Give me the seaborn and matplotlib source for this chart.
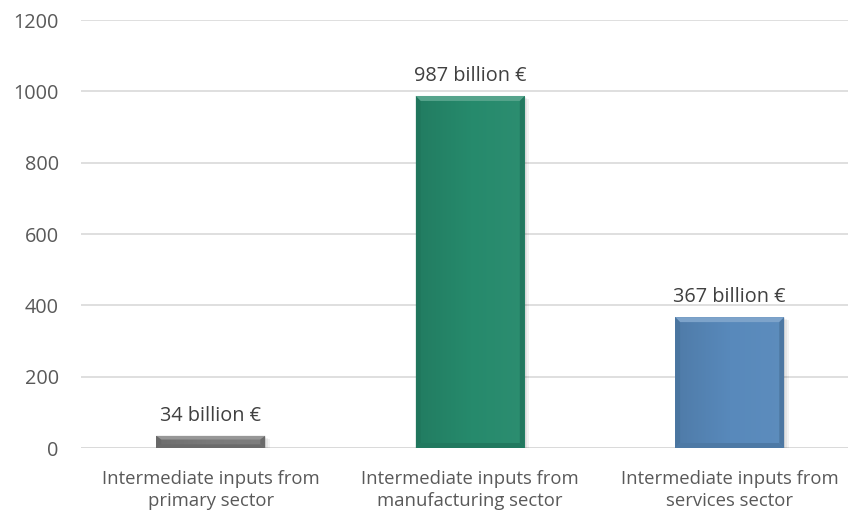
import matplotlib
matplotlib.use("Agg")
import matplotlib.pyplot as plt
import seaborn as sns
import pandas as pd
import numpy as np
from matplotlib.patches import Polygon, Rectangle
import matplotlib.colors as mc

categories = ["Intermediate inputs from\nprimary sector",
              "Intermediate inputs from\nmanufacturing sector",
              "Intermediate inputs from\nservices sector"]
values = [34, 987, 367]
labels = ["34 billion €", "987 billion €", "367 billion €"]
colors = ["#7a7a7a", "#268a6c", "#5889bb"]
yticks = [0, 200, 400, 600, 800, 1000, 1200]

sns.set_theme(style="white")
plt.rcParams['font.family'] = ['Open Sans', 'DejaVu Sans']

df = pd.DataFrame({"cat": categories, "val": values})

fig = plt.figure(figsize=(8.48, 5.14), dpi=100)
ax = fig.add_axes([81/848, 1 - 448/514, 1 - 81/848, (448 - 20)/514])

sns.barplot(data=df, x="cat", y="val", hue="cat", palette=colors, width=0.42,
            legend=False, ax=ax, saturation=1, zorder=3, linewidth=0)

ax.set_xlim(-0.5, 2.456)
ax.set_ylim(0, 1200)
ax.set_yticks(yticks)
ax.set_yticklabels([str(t) for t in yticks])
ax.yaxis.grid(True, color="#d9d9d9", linewidth=1.2, zorder=0)
ax.set_axisbelow(True)
for s in ax.spines.values():
    s.set_visible(False)
ax.axhline(0, color="#d9d9d9", linewidth=1.2, zorder=1)
ax.set_xlabel("")
ax.set_ylabel("")
ax.tick_params(axis="both", length=0, colors="#595959")
ax.tick_params(axis="y", pad=16, labelsize=14.3)
ax.tick_params(axis="x", pad=16, labelsize=13.3)
for t in ax.get_xticklabels():
    t.set_color("#595959")
    t.set_linespacing(1.3)


def shade(c, f):
    r, g, b = mc.to_rgb(c)
    if f > 0:
        return (r + (1 - r) * f, g + (1 - g) * f, b + (1 - b) * f)
    return (r * (1 + f), g * (1 + f), b * (1 + f))

for p, c, lab in zip(ax.patches, colors, labels):
    x0, y0 = p.get_x(), p.get_y()
    w, h = p.get_width(), p.get_height()
    # soft shadow
    for k in range(3):
        ax.add_patch(Rectangle((x0 + w * 0.01 * (k + 1), y0 - 3 * (k + 1)), w + w * 0.005 * k, h,
                               transform=ax.transData, facecolor="#000000", alpha=0.05,
                               zorder=2, linewidth=0))
    # subtle horizontal gradient fill clipped to the bar
    grad = np.linspace(0, 1, 64).reshape(1, -1)
    cmap = mc.LinearSegmentedColormap.from_list("g", [shade(c, -0.1), c, shade(c, 0.03)])
    im = ax.imshow(grad, extent=(x0, x0 + w, y0, y0 + h), aspect="auto", cmap=cmap,
                   zorder=3.5, interpolation="bicubic")
    im.set_clip_path(p)
    bw = w * 0.045
    bh = min(14, h * 0.3)
    ax.add_patch(Polygon([(x0, y0 + h), (x0 + w, y0 + h), (x0 + w - bw, y0 + h - bh), (x0 + bw, y0 + h - bh)],
                         closed=True, facecolor=shade(c, 0.22), zorder=4, linewidth=0))
    ax.add_patch(Polygon([(x0, y0), (x0, y0 + h), (x0 + bw, y0 + h - bh), (x0 + bw, y0 + bh)],
                         closed=True, facecolor=shade(c, -0.2), alpha=0.45, zorder=4, linewidth=0))
    ax.add_patch(Polygon([(x0 + w, y0), (x0 + w, y0 + h), (x0 + w - bw, y0 + h - bh), (x0 + w - bw, y0 + bh)],
                         closed=True, facecolor=shade(c, -0.25), alpha=0.55, zorder=4, linewidth=0))
    ax.add_patch(Polygon([(x0, y0), (x0 + w, y0), (x0 + w - bw, y0 + bh), (x0 + bw, y0 + bh)],
                         closed=True, facecolor=shade(c, -0.12), zorder=4, linewidth=0))
    ax.annotate(lab, (x0 + w / 2, y0 + h), xytext=(0, 7), textcoords="offset points",
                ha="center", va="bottom", fontsize=14.3, color="#404040", zorder=5)

ax.set_xlim(-0.5, 2.456)
ax.set_ylim(0, 1200)
fig.savefig("out.png", dpi=100)
